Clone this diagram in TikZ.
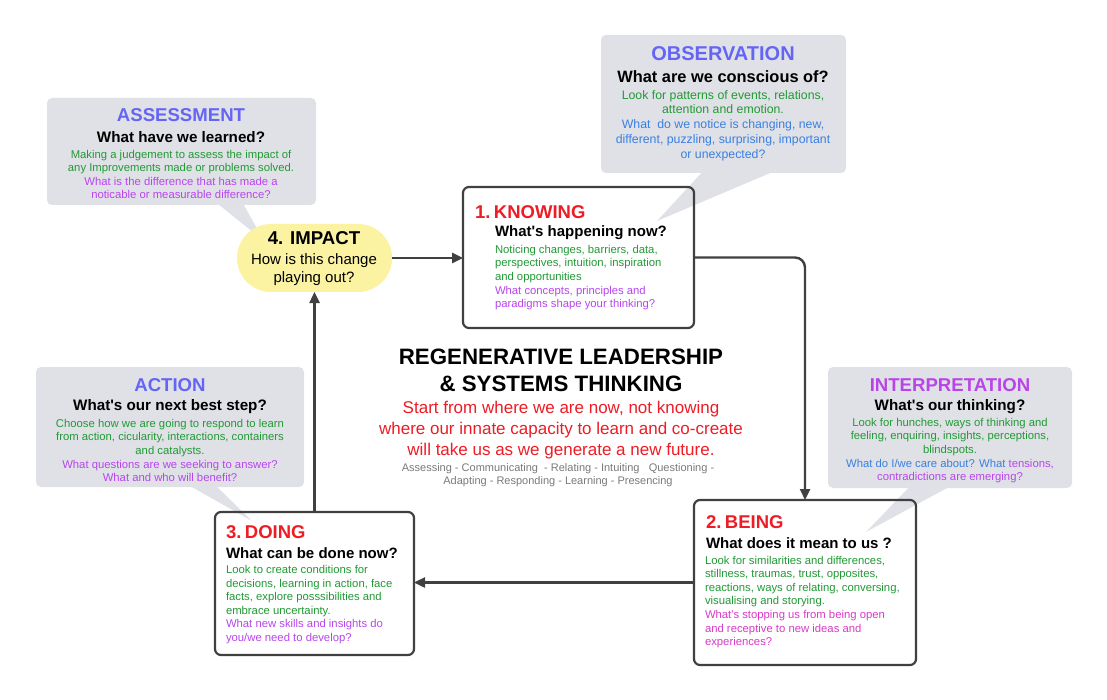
\documentclass[tikz,border=0pt]{standalone}
\usepackage{fontspec}
\setmainfont{Liberation Sans}
\usetikzlibrary{arrows.meta}
\definecolor{cgray}{HTML}{DFE1E6}
\definecolor{tblue}{HTML}{6565F5}
\definecolor{tpurple}{HTML}{B945E8}
\definecolor{cgreen}{HTML}{219A35}
\definecolor{cblue}{HTML}{3B7FE0}
\definecolor{cpurple}{HTML}{B845EE}
\definecolor{cmagenta}{HTML}{D93AC8}
\definecolor{bred}{HTML}{EE1C25}
\definecolor{gtext}{HTML}{7A7A7A}
\definecolor{dline}{HTML}{404040}
\definecolor{impfill}{HTML}{FBF2A2}
\newcommand{\apos}{\textquotesingle}
\begin{document}
\begin{tikzpicture}[x=1pt,y=-1pt,
  every node/.style={inner sep=0pt, outer sep=0pt},
  calloutbg/.style={fill=cgray, draw=none, rounded corners=5pt},
  boxfill/.style={fill=white, draw=none},
  boxline/.style={draw=dline, line width=2.2pt, rounded corners=6pt},
  flow/.style={draw=dline, line width=2.4pt, -{Triangle[length=11pt,width=10pt]}},
  ctitle/.style={font=\bfseries\fontsize{18.6}{22}\selectfont, text=tblue},
  cq/.style={font=\bfseries\fontsize{15.2}{18}\selectfont, text=black},
  cbody/.style={font=\fontsize{11.3}{13.6}\selectfont, align=center},
  btitle/.style={font=\bfseries\fontsize{18.5}{22}\selectfont, text=bred, anchor=west},
  bq/.style={font=\bfseries\fontsize{15}{18}\selectfont, anchor=west},
  bbody/.style={font=\fontsize{11.3}{13.6}\selectfont, align=left, anchor=west},
]
\useasboundingbox (0,0) rectangle (1107,700);
\fill[white] (0,0) rectangle (1107,700);

% box fills
\node[boxfill, minimum width=231, minimum height=141] (know) at (578.5,257.5) {};
\node[boxfill, minimum width=222, minimum height=165] (being) at (805,582.5) {};
\node[boxfill, minimum width=199, minimum height=143] (doing) at (314.5,583.5) {};

% callouts
\node[calloutbg, minimum width=269, minimum height=107] (assessbg) at (181.5,151.5) {};
\coordinate (assesstip) at (264,241);
\fill[cgray] (213,200) -- (assesstip) -- (241,200) -- cycle;

\node[calloutbg, minimum width=245, minimum height=138] (observbg) at (723.5,104) {};
\coordinate (observtip) at (657,221);
\fill[cgray] (706,168) -- (observtip) -- (782,168) -- cycle;

\node[calloutbg, minimum width=268, minimum height=120] (actionbg) at (170,427) {};
\coordinate (actiontip) at (252,521);
\fill[cgray] (183,482) -- (actiontip) -- (212,482) -- cycle;

\node[calloutbg, minimum width=244, minimum height=121] (interpbg) at (950,427.5) {};
\coordinate (interptip) at (866,532);
\fill[cgray] (914,482) -- (interptip) -- (958,482) -- cycle;

% impact
\node[fill=impfill, rounded corners=34pt, minimum width=155, minimum height=68] (impact) at (314.5,258) {};

% box borders
\draw[boxline] (know.south west) rectangle (know.north east);
\draw[boxline] (being.south west) rectangle (being.north east);
\draw[boxline] (doing.south west) rectangle (doing.north east);

% connectors
\draw[flow] (impact.east) -- (impact.east -| know.west);
\draw[flow, rounded corners=10pt] (know.east) -| (being.north);
\draw[flow] (being.west) -- (being.west -| doing.east);
\draw[flow] (doing.north) -- (doing.north |- impact.south);

% impact text
\node[font=\bfseries\fontsize{18.6}{22}\selectfont] (impT) at (314,238) {4. IMPACT};
\node[font=\fontsize{15}{18}\selectfont, align=center] (impB) at (314,270) {How is this change\\playing out?};

% knowing
\node[btitle] (knowT) at (475,212) {1.\hspace{3.5pt}KNOWING};
\node[bq] (knowQ) at (495,233) {What\apos s happening now?};
\node[bbody] (knowB) at (495,277.5) {\textcolor{cgreen}{Noticing changes, barriers, data,}\\
\textcolor{cgreen}{perspectives, intuition, inspiration}\\
\textcolor{cgreen}{and opportunities}\\
\textcolor{cpurple}{What concepts, principles and}\\
\textcolor{cpurple}{paradigms shape your thinking?}};

% being
\node[btitle] (beingT) at (706,522) {2.\hspace{3.5pt}BEING};
\node[bq] (beingQ) at (706,543) {What does it mean to us ?};
\node[bbody] (beingB) at (705,602) {\textcolor{cgreen}{Look for similarities and differences,}\\
\textcolor{cgreen}{stillness, traumas, trust, opposites,}\\
\textcolor{cgreen}{reactions, ways of relating, conversing,}\\
\textcolor{cgreen}{visualising and storying.}\\
\textcolor{cmagenta}{What\apos s stopping us from being open}\\
\textcolor{cmagenta}{and receptive to new ideas and}\\
\textcolor{cmagenta}{experiences?}};

% doing
\node[btitle] (doingT) at (226,532) {3.\hspace{3.5pt}DOING};
\node[bq] (doingQ) at (226,553) {What can be done now?};
\node[bbody] (doingB) at (226,604.5) {\textcolor{cgreen}{Look to create conditions for}\\
\textcolor{cgreen}{decisions, learning in action, face}\\
\textcolor{cgreen}{facts, explore posssibilities and}\\
\textcolor{cgreen}{embrace uncertainty.}\\
\textcolor{cpurple}{What new skills and insights do}\\
\textcolor{cpurple}{you/we need to develop?}};

% assessment
\node[ctitle] (assessT) at (181,115) {ASSESSMENT};
\node[cq] (assessQ) at (181,137) {What have we learned?};
\node[cbody] (assessB) at (181,174.5) {\textcolor{cgreen}{Making a judgement to assess the impact of}\\
\textcolor{cgreen}{any Improvements made or problems solved.}\\
\textcolor{cpurple}{What is the difference that has made a}\\
\textcolor{cpurple}{noticable or measurable difference?}};

% observation
\node[ctitle, font=\bfseries\fontsize{20}{24}\selectfont] (observT) at (723,54) {OBSERVATION};
\node[cq, font=\bfseries\fontsize{16.4}{19}\selectfont] (observQ) at (723,77) {What are we conscious of?};
\node[cbody, font=\fontsize{12.3}{14.7}\selectfont] (observB) at (723,125.5) {\textcolor{cgreen}{Look for patterns of events, relations,}\\
\textcolor{cgreen}{attention and emotion.}\\
\textcolor{cblue}{What\ \ do we notice is changing, new,}\\
\textcolor{cblue}{different, puzzling, surprising, important}\\
\textcolor{cblue}{or unexpected?}};

% action
\node[ctitle] (actionT) at (170,385) {ACTION};
\node[cq] (actionQ) at (170,407) {What\apos s our next best step?};
\node[cbody] (actionB) at (170,450.5) {\textcolor{cgreen}{Choose how we are going to respond to learn}\\
\textcolor{cgreen}{from action, cicularity, interactions, containers}\\
\textcolor{cgreen}{and catalysts.}\\
\textcolor{cpurple}{What questions are we seeking to answer?}\\
\textcolor{cpurple}{What and who will benefit?}};

% interpretation
\node[ctitle, text=tpurple] (interpT) at (950,385) {INTERPRETATION};
\node[cq] (interpQ) at (950,407) {What\apos s our thinking?};
\node[cbody] (interpB) at (950,450.5) {\textcolor{cgreen}{Look for hunches, ways of thinking and}\\
\textcolor{cgreen}{feeling, enquiring, insights, perceptions,}\\
\textcolor{cgreen}{blindspots.}\\
\textcolor{cblue}{What do I/we care about? What} \textcolor{cpurple}{tensions,}\\
\textcolor{cpurple}{contradictions are emerging?}};

% center
\node[font=\bfseries\fontsize{22.3}{27}\selectfont, align=center] (mainT) at (561,370.5) {REGENERATIVE LEADERSHIP\\\& SYSTEMS THINKING};
\node[font=\fontsize{17}{21}\selectfont, align=center, text=bred] (mainR) at (561,430.5) {Start from where we are now, not knowing\\where our innate capacity to learn and co-create\\will take us as we generate a new future.};
\node[font=\fontsize{11}{13}\selectfont, align=center, text=gtext] (mainG) at (558,475.5) {Assessing - Communicating\ \ - Relating - Intuiting\ \ \ Questioning -\\Adapting - Responding - Learning - Presencing};
\end{tikzpicture}
\end{document}
